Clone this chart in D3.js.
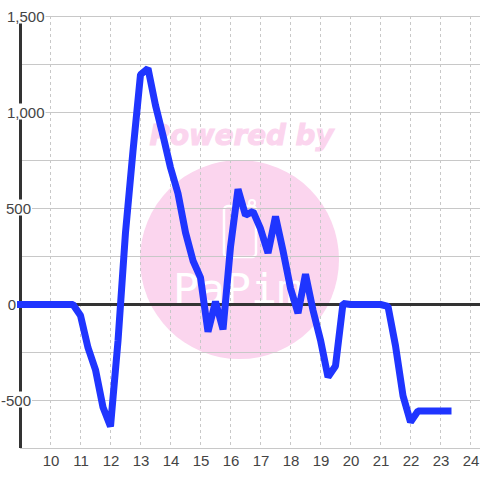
<!DOCTYPE html>
<html><head><meta charset="utf-8">
<script src="https://cdn.jsdelivr.net/npm/d3@7/dist/d3.min.js"></script>
<style>html,body{margin:0;padding:0;background:#fff}svg{display:block}text{font-family:"Liberation Sans",Arial,sans-serif}</style>
</head><body><svg id="c" width="480" height="480"></svg>
<script>
const startHour = 9, stepHours = 0.25;
const values = [0,0,0,0, 0,0,0,0, -57,-225,-340,-535, -635,-190,375,800, 1197,1230,1037,880, 713,578,375,228, 140,-142,15,-130, 300,600,465,485, 395,268,458,280, 85,-45,158,-30, -185,-378,-320,5, 0,0,0,0, 0,-10,-215,-475, -612,-555,-555,-555, -555,-555];
const xTicks = [10,11,12,13,14,15,16,17,18,19,20,21,22,23,24];
const yTicks = [-750,-500,-250,0,250,500,750,1000,1250,1500];
const yLabelled = [-500,0,500,1000,1500];
const yLabelText = ["-500","0","500","1,000","1,500"];
const watermarkTop = "Powered by", watermarkName = "PaPim";

const svg = d3.select("#c");
const x = d3.scaleLinear().domain([9,24]).range([20.5,470.5]);
const y = d3.scaleLinear().domain([-750,1500]).range([448.5,16.5]);

// watermark
const wm = svg.append("g");
wm.append("circle").attr("cx",x(16.3)).attr("cy",y(234)).attr("r",99.5).attr("fill","#fbd5ee");
wm.append("text").attr("x",x(16.37)).attr("y",145).attr("text-anchor","middle")
  .attr("font-size",28).attr("font-weight",700).attr("font-style","italic").attr("fill","#fbd5ee")
  .attr("stroke","#fbd5ee").attr("stroke-width",1)
  .style("font-family","'DejaVu Sans'").attr("textLength",184).attr("lengthAdjust","spacingAndGlyphs").text(watermarkTop);
wm.append("rect").attr("x",224).attr("y",206).attr("width",32).attr("height",51).attr("rx",4)
  .attr("fill","none").attr("stroke","#fff").attr("stroke-width",2.5);
wm.append("circle").attr("cx",252).attr("cy",203).attr("r",3).attr("fill","none").attr("stroke","#fff").attr("stroke-width",2);
wm.append("text").attr("x",238).attr("y",303).attr("text-anchor","middle")
  .attr("font-size",41).attr("fill","#fff")
  .style("font-family","'DejaVu Sans Mono'").attr("textLength",130).attr("lengthAdjust","spacingAndGlyphs").text(watermarkName);

// grid
svg.append("g").selectAll("line").data(xTicks).join("line")
  .attr("x1",d=>x(d)).attr("x2",d=>x(d)).attr("y1",16).attr("y2",448)
  .attr("stroke","#c8c8c8").attr("stroke-width",1).attr("stroke-dasharray","3 3");
svg.append("g").selectAll("line").data(yTicks.filter(d=>d!==0)).join("line")
  .attr("x1",20).attr("x2",480).attr("y1",d=>y(d)).attr("y2",d=>y(d))
  .attr("stroke","#c8c8c8").attr("stroke-width",1);

// axes
svg.append("line").attr("x1",20.5).attr("x2",20.5).attr("y1",16).attr("y2",448).attr("stroke","#333").attr("stroke-width",3);
svg.append("line").attr("x1",20).attr("x2",480).attr("y1",y(0)).attr("y2",y(0)).attr("stroke","#333").attr("stroke-width",3);

// y labels on a white box, right-aligned to the tick-label column
const labelRight = {"-500":31,"0":16,"500":31,"1000":44.5,"1500":44.5};
const yl = svg.append("g").selectAll("g").data(yLabelled).join("g");
yl.append("text").attr("x",d=>labelRight[d]).attr("y",d=>y(d)+5).attr("text-anchor","end").attr("font-size",15).attr("fill","#444")
  .text((d,i)=>yLabelText[i])
  .each(function(){
    const b=this.getBBox();
    d3.select(this.parentNode).insert("rect","text").attr("x",b.x-1).attr("y",b.y+b.height/2-8.5).attr("width",b.width+2).attr("height",16).attr("fill","#fff");
  });

svg.append("g").selectAll("text").data(xTicks).join("text")
  .attr("x",d=>x(d)+.5).attr("y",466).attr("text-anchor","middle").attr("font-size",15).attr("fill","#444").text(d=>d);

// series
const line = d3.line().x((d,i)=>x(startHour+i*stepHours)).y(d=>y(d));
svg.append("path").datum(values).attr("d",line).attr("fill","none").attr("stroke","#1f35ff")
  .attr("stroke-width",7).attr("stroke-linecap","square").attr("stroke-linejoin","bevel");
</script></body></html>
